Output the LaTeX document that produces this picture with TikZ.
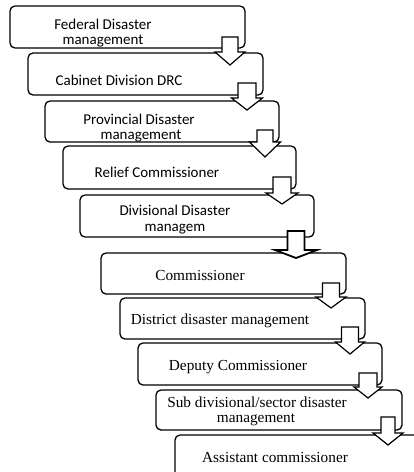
\documentclass[tikz,border=0pt]{standalone}
\usepackage{fontspec}
\setmainfont{Liberation Serif}
\newfontfamily\calfont{Carlito}
\tikzset{
  box/.style={draw=black, line width=1.3pt, rounded corners=5pt, fill=white},
  arr/.style={draw=black, line width=1.2pt, fill=white, line join=miter},
  sanst/.style={anchor=base, inner sep=0pt, font={\fontsize{15}{15}\selectfont\calfont}},
  serift/.style={anchor=base, inner sep=0pt, font={\fontsize{15.3}{16}\selectfont}}
}
\newcommand{\blockarr}[6]{%
  \filldraw[arr] (#1-#5,#2) -- (#1+#5,#2) -- (#1+#5,#3) -- (#1+#6,#3) -- (#1,#4) -- (#1-#6,#3) -- (#1-#5,#3) -- cycle;}
\begin{document}
\begin{tikzpicture}[x=1pt,y=-1pt]
\useasboundingbox (0,0) rectangle (414,472);
\clip (0,0) rectangle (414,472);
% boxes
\draw[box] (10,6) rectangle (245,48) node[pos=0.5, inner sep=0pt] (b1) {};
\draw[box] (28,53) rectangle (263,95) node[pos=0.5, inner sep=0pt] (b2) {};
\draw[box] (45,101) rectangle (279,142) node[pos=0.5, inner sep=0pt] (b3) {};
\draw[box] (63,146) rectangle (296,189) node[pos=0.5, inner sep=0pt] (b4) {};
\draw[box] (80,195) rectangle (314,237) node[pos=0.5, inner sep=0pt] (b5) {};
\draw[box] (101,253) rectangle (346,294) node[pos=0.5, inner sep=0pt] (b6) {};
\draw[box] (120,298) rectangle (365,339) node[pos=0.5, inner sep=0pt] (b7) {};
\draw[box] (138,343) rectangle (382,385) node[pos=0.5, inner sep=0pt] (b8) {};
\draw[box] (156,390) rectangle (402,430) node[pos=0.5, inner sep=0pt] (b9) {};
\draw[box] (175,435) rectangle (440,495) node[pos=0.5, inner sep=0pt] (b10) {};
% texts
\node[sanst] (t1a) at (103,29.5) {Federal Disaster};
\node[sanst] (t1b) at (103,44) {management};
\node[sanst] (t2) at (119,85) {Cabinet Division DRC};
\node[sanst] (t3a) at (139,124.5) {Provincial Disaster};
\node[sanst] (t3b) at (141,139) {management};
\node[sanst] (t4) at (157,177.5) {Relief Commissioner};
\node[sanst] (t5a) at (175,215.5) {Divisional Disaster};
\node[sanst] (t5b) at (175,231.5) {managem};
\node[serift] (t6) at (200,280) {Commissioner};
\node[serift] (t7) at (220,324) {District disaster management};
\node[serift] (t8) at (238,370) {Deputy Commissioner};
\node[serift] (t9a) at (257,407) {Sub divisional/sector disaster};
\node[serift] (t9b) at (256,422) {management};
\node[serift] (t10) at (275,462) {Assistant commissioner};
% block arrows
\blockarr{230}{37}{52}{65}{8}{15}
\blockarr{247}{83}{98}{110}{9}{15.5}
\blockarr{265}{130}{142}{157}{8}{15.5}
\blockarr{282}{177}{193}{204}{9}{16}
\filldraw[arr, line width=1.8pt] (296-8.5,231) -- (296+8.5,231) -- (296+8.5,250) -- (296+21,250) -- (296,258) -- (296-21,250) -- (296-8.5,250) -- cycle;
\blockarr{331}{283}{297}{308}{8.5}{15}
\blockarr{350}{327}{342}{354}{8.5}{14.5}
\blockarr{368}{373}{387}{398}{9}{14}
\blockarr{388}{417}{433}{445}{7}{15}
\end{tikzpicture}
\end{document}
